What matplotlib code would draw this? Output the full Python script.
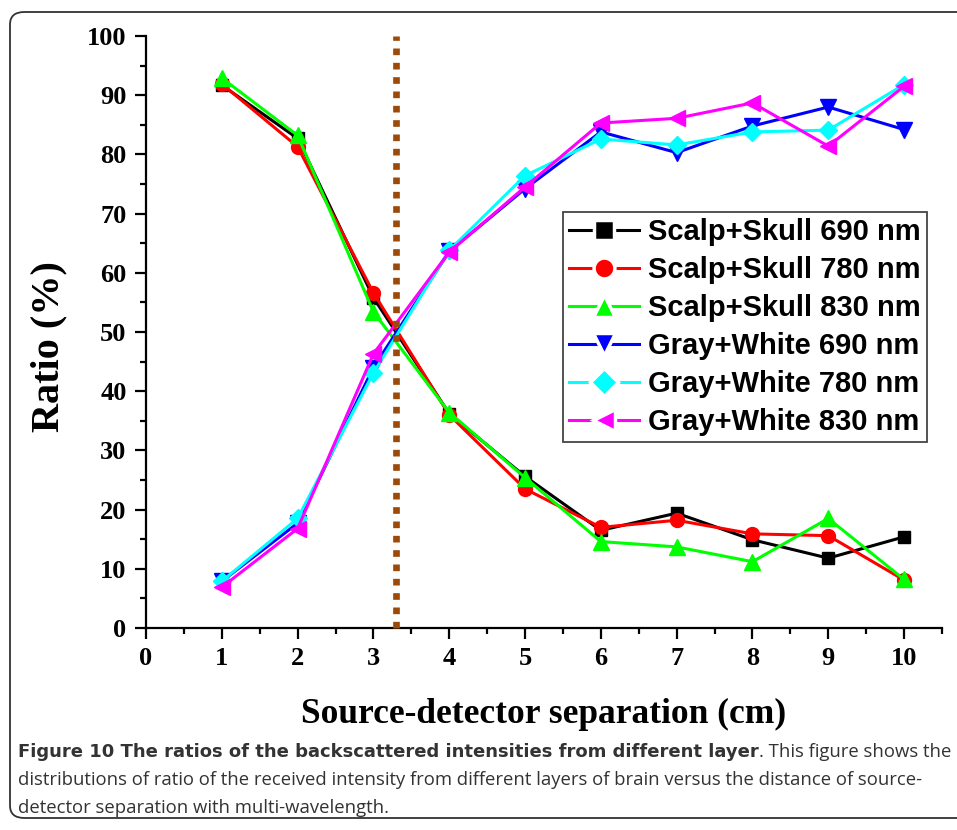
import matplotlib
matplotlib.use("Agg")
import matplotlib.pyplot as plt
from matplotlib.patches import FancyBboxPatch
from matplotlib.ticker import MultipleLocator

# --- data ---
separation = [1, 2, 3, 4, 5, 6, 7, 8, 9, 10]

scalp_690 = [91.7, 82.7, 55.8, 36.2, 25.6, 16.5, 19.4, 14.9, 11.8, 15.4]
scalp_780 = [91.9, 81.3, 56.6, 36.0, 23.5, 17.0, 18.2, 15.9, 15.6, 8.1]
scalp_830 = [92.9, 83.2, 53.4, 36.4, 25.4, 14.6, 13.7, 11.2, 18.5, 8.2]
gw_690 = [7.9, 17.7, 44.0, 63.6, 74.2, 83.8, 80.3, 84.8, 88.0, 84.2]
gw_780 = [7.9, 18.5, 43.1, 63.8, 76.4, 82.6, 81.6, 83.8, 84.1, 91.8]
gw_830 = [6.9, 16.8, 46.3, 63.5, 74.5, 85.3, 86.1, 88.7, 81.4, 91.5]

labels = ["Scalp+Skull 690 nm", "Scalp+Skull 780 nm", "Scalp+Skull 830 nm",
          "Gray+White 690 nm", "Gray+White 780 nm", "Gray+White 830 nm"]
cutoff = 3.3

caption_bold = "Figure 10 The ratios of the backscattered intensities from different layer"
caption_rest = ". This figure shows the"
caption_lines = [
    "distributions of ratio of the received intensity from different layers of brain versus the distance of source-",
    "detector separation with multi-wavelength.",
]

W, H = 957, 830
SERIF = ["Liberation Serif", "DejaVu Serif"]
SANS = ["Liberation Sans", "DejaVu Sans"]
CAP = ["Open Sans", "DejaVu Sans"]
CAP_BOLD = ["DejaVu Sans"]

fig = plt.figure(figsize=(W / 100, H / 100), dpi=100)

# rounded frame around figure + caption (right side runs off the page)
frame = FancyBboxPatch((10 / W, 12 / H), 1040 / W, 806 / H,
                       boxstyle="round,pad=0,rounding_size=0.015",
                       transform=fig.transFigure, fill=False,
                       edgecolor="#333333", linewidth=1.3, clip_on=False)
fig.patches.append(frame)

ax = fig.add_axes([146 / W, 1 - 628 / H, (942 - 146) / W, (628 - 36) / H])

series = [
    (scalp_690, "black", "s", 9),
    (scalp_780, "red", "o", 10),
    (scalp_830, "#00ff00", "^", 11),
    (gw_690, "blue", "v", 11),
    (gw_780, "cyan", "D", 9),
    (gw_830, "magenta", "<", 11),
]
for (vals, col, mk, ms), lab in zip(series, labels):
    ax.plot(separation, vals, color=col, marker=mk, markersize=ms,
            linewidth=2.2, label=lab, zorder=3)

# dotted cut-off line
ax.plot([cutoff, cutoff], [0, 100], color="#9c4a0a", linewidth=4.8,
        linestyle=(0, (1, 1.15)), dash_capstyle="butt", zorder=5, clip_on=False)

ax.set_xlim(0, 10.5)
ax.set_ylim(0, 100)
ax.xaxis.set_major_locator(MultipleLocator(1))
ax.xaxis.set_minor_locator(MultipleLocator(0.5))
ax.yaxis.set_major_locator(MultipleLocator(10))
ax.yaxis.set_minor_locator(MultipleLocator(5))
ax.spines["top"].set_visible(False)
ax.spines["right"].set_visible(False)
for s in ("left", "bottom"):
    ax.spines[s].set_linewidth(1.6)
ax.tick_params(which="major", direction="out", length=8, width=1.6, pad=6)
ax.tick_params(which="minor", direction="out", length=4.5, width=1.6)
ax.set_xticks([0, 1, 2, 3, 4, 5, 6, 7, 8, 9, 10])
for t in ax.get_xticklabels() + ax.get_yticklabels():
    t.set_fontfamily(SERIF)
    t.set_fontweight("bold")
    t.set_fontsize(19)

ax.set_xlabel("Source-detector separation (cm)", fontfamily=SERIF,
              fontweight="bold", fontsize=25.5)
ax.set_ylabel("Ratio (%)", fontfamily=SERIF, fontweight="bold", fontsize=29)
ax.xaxis.set_label_coords(0.5, -(698 - 628) / 592)
ax.yaxis.set_label_coords(-(146 - 67) / 796, (628 - 347) / 592)

leg = ax.legend(loc="upper left", bbox_to_anchor=((563 - 146) / 796, (628 - 212) / 592),
                borderaxespad=0, prop={"family": SANS, "weight": "bold", "size": 21},
                handlelength=2.4, handletextpad=0.3, labelspacing=0.34,
                borderpad=0.22, fancybox=False, framealpha=1)
leg.get_frame().set_edgecolor("#444444")
leg.get_frame().set_linewidth(1.3)
# Origin-style gap between line and marker in the legend keys
for h, (_, _, _, ms) in zip(leg.legend_handles, series):
    h.set_markeredgecolor("white")
    h.set_markeredgewidth(2.5)
    h.set_markersize(ms + 5)

#---caption---#
x0 = 18 / W
t_bold = fig.text(x0, 1 - 752 / H, caption_bold, fontfamily=CAP_BOLD, fontweight="bold",
                  fontsize=13, color="#333333", va="center", ha="left")
fig.canvas.draw()
bb = t_bold.get_window_extent(renderer=fig.canvas.get_renderer())
fig.text(bb.x1 / W, 1 - 752 / H, caption_rest, fontfamily=CAP,
         fontsize=13.3, color="#333333", va="center", ha="left")
for i, line in enumerate(caption_lines):
    fig.text(x0, 1 - (780 + 28 * i) / H, line, fontfamily=CAP,
             fontsize=13.3, color="#333333", va="center", ha="left")

fig.savefig("out.png", dpi=100)
